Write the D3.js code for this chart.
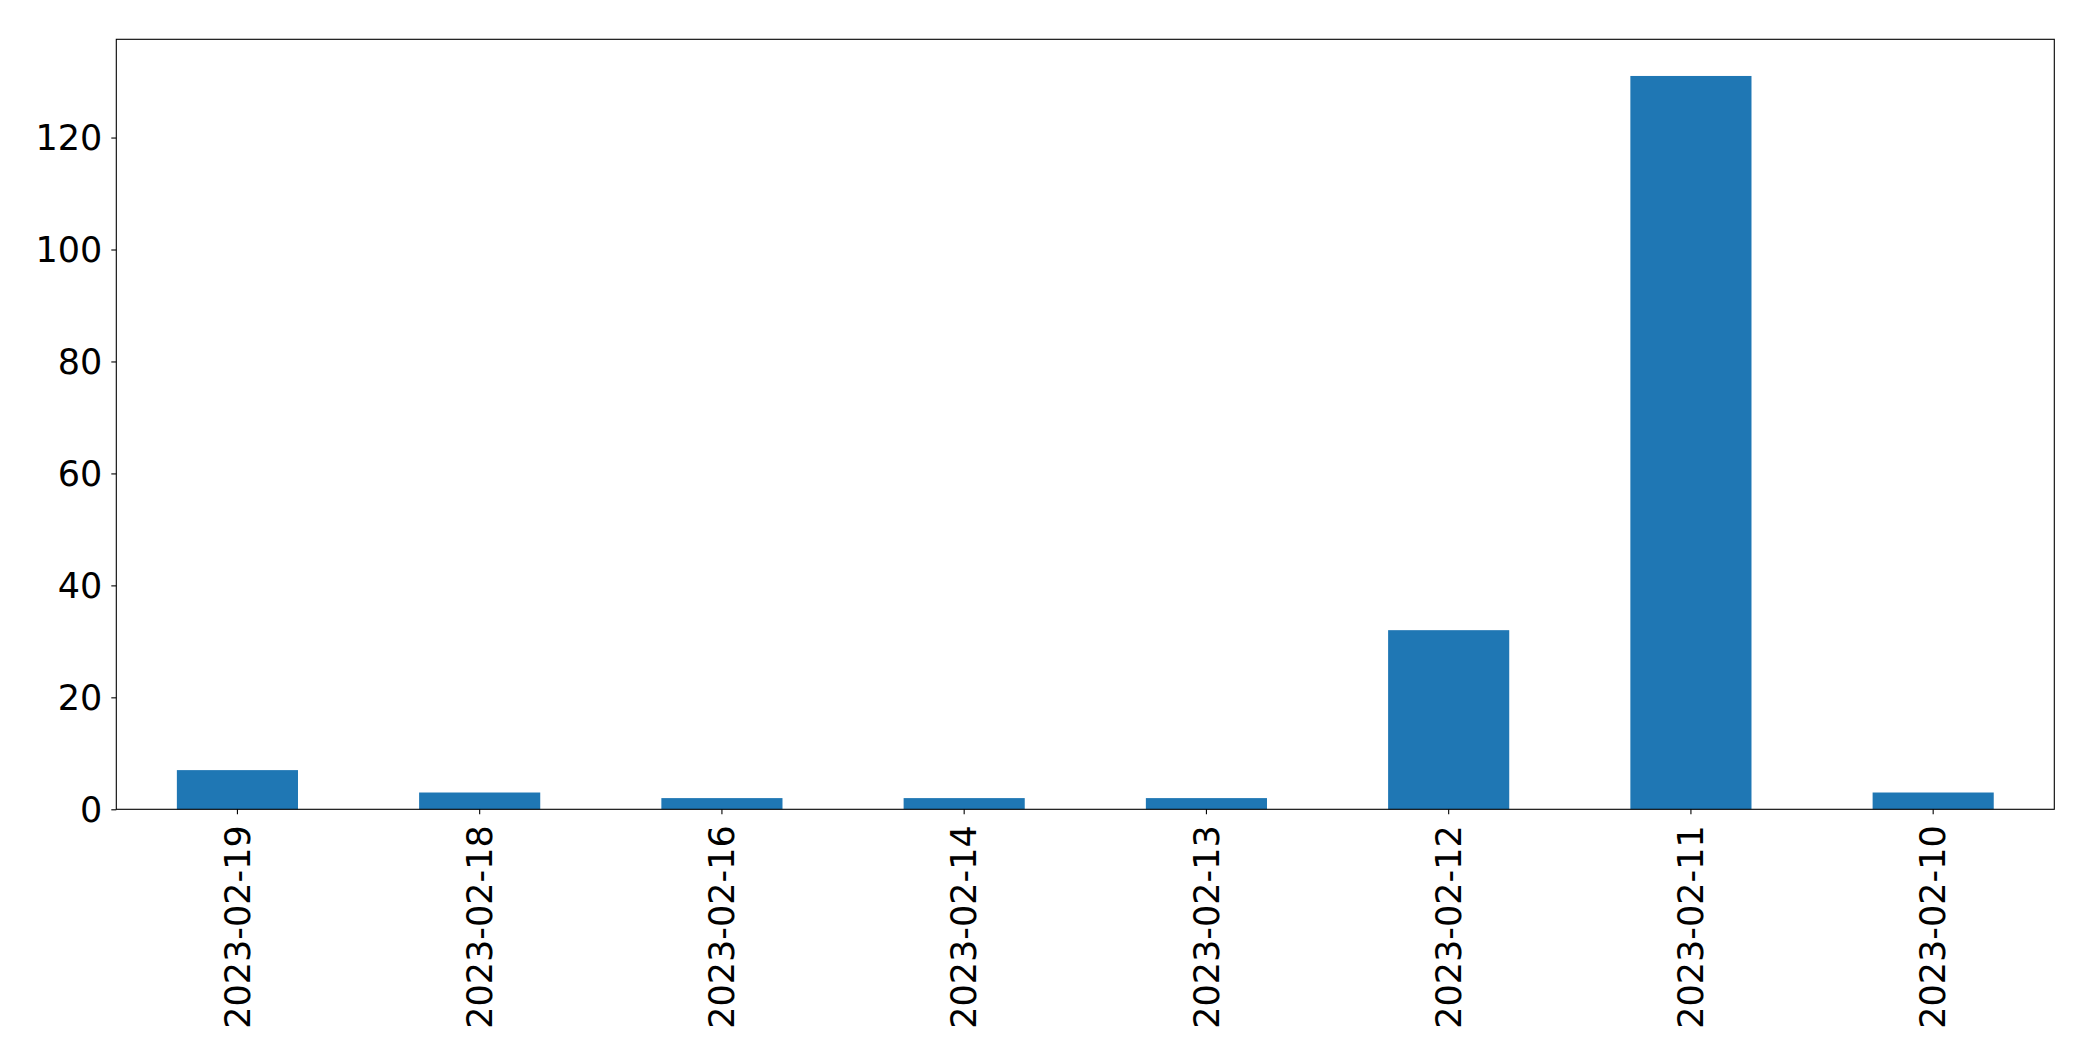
<!DOCTYPE html>
<html>
<head>
<meta charset="utf-8">
<script src="https://cdn.jsdelivr.net/npm/d3@7"></script>
<style>
  html, body { margin: 0; padding: 0; background: #fff; }
  svg { display: block; }
  text { font-family: "DejaVu Sans", sans-serif; fill: #000; }
</style>
</head>
<body>
<svg id="chart" width="2093" height="1061"></svg>
<script>
const categories = ["2023-02-19", "2023-02-18", "2023-02-16", "2023-02-14", "2023-02-13", "2023-02-12", "2023-02-11", "2023-02-10"];
const values = [7, 3, 2, 2, 2, 32, 131, 3];
const yTicks = [0, 20, 40, 60, 80, 100, 120];

const W = 2093, H = 1061;
const margin = { left: 116.3, top: 39.3, right: 38.7, bottom: 251.7 };
const iw = W - margin.left - margin.right;
const ih = H - margin.top - margin.bottom;

const svg = d3.select("#chart");
const g = svg.append("g").attr("transform", `translate(${margin.left},${margin.top})`);

// matplotlib-style band: xlim [-0.5, n-0.5], bar width 0.5
const x = d3.scaleBand().domain(categories).range([0, iw]).paddingInner(0.5).paddingOuter(0.25);
const y = d3.scaleLinear().domain([0, d3.max(values) * 1.05]).range([ih, 0]);

g.selectAll("rect.bar")
  .data(categories.map((c, i) => ({ c, v: values[i] })))
  .join("rect")
  .attr("class", "bar")
  .attr("x", d => x(d.c))
  .attr("width", x.bandwidth())
  .attr("y", d => y(d.v))
  .attr("height", d => ih - y(d.v))
  .attr("fill", "#1f77b4");

// Y axis
const yAxis = d3.axisLeft(y).tickValues(yTicks).tickSize(5).tickPadding(9).tickFormat(d3.format("d"));
const yg = g.append("g").call(yAxis);
yg.select(".domain").remove();
yg.selectAll(".tick line").attr("stroke", "#000").attr("stroke-width", 1.1);
yg.selectAll(".tick text").attr("font-size", 35).attr("font-family", "DejaVu Sans").attr("dy", "0.35em");

// X axis
const xAxis = d3.axisBottom(x).tickSize(5).tickPadding(0);
const xg = g.append("g").attr("transform", `translate(0,${ih})`).call(xAxis);
xg.select(".domain").remove();
xg.selectAll(".tick line").attr("stroke", "#000").attr("stroke-width", 1.1);
xg.selectAll(".tick text")
  .attr("font-size", 35)
  .attr("font-family", "DejaVu Sans")
  .attr("text-anchor", "end")
  .attr("transform", "rotate(-90)")
  .attr("x", -16)
  .attr("y", 0)
  .attr("dy", "0.35em");

// Frame
g.append("rect")
  .attr("x", 0).attr("y", 0).attr("width", iw).attr("height", ih)
  .attr("fill", "none").attr("stroke", "#000").attr("stroke-width", 1.1);
</script>
</body>
</html>
